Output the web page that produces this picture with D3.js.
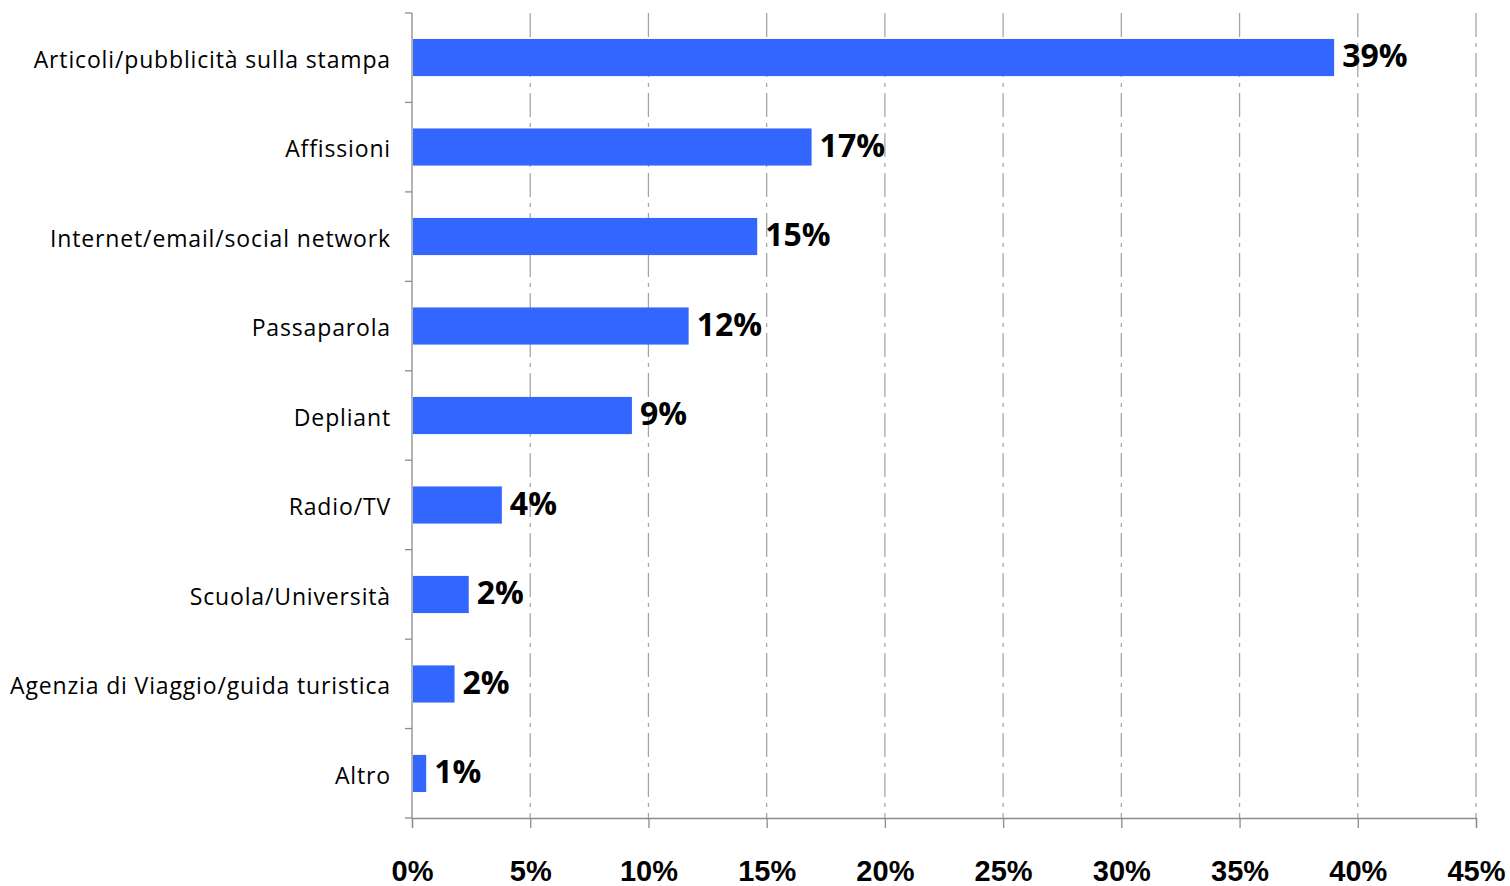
<!DOCTYPE html>
<html>
<head>
<meta charset="utf-8">
<script src="https://cdn.jsdelivr.net/npm/d3@7"></script>
<style>
  body { margin: 0; background: #fff; }
  svg { display: block; font-family: "Open Sans", Lato, sans-serif; }
</style>
</head>
<body>
<svg id="chart" width="1510" height="886"></svg>
<script>
// data
var categories = [
  "Articoli/pubblicità sulla stampa",
  "Affissioni",
  "Internet/email/social network",
  "Passaparola",
  "Depliant",
  "Radio/TV",
  "Scuola/Università",
  "Agenzia di Viaggio/guida turistica",
  "Altro"
];
var values = [39.0, 16.9, 14.6, 11.7, 9.3, 3.8, 2.4, 1.8, 0.6];
var valueLabels = ["39%", "17%", "15%", "12%", "9%", "4%", "2%", "2%", "1%"];
var xTicks = [0, 5, 10, 15, 20, 25, 30, 35, 40, 45];

var svg = d3.select('#chart');
var margin = {top: 13, left: 412, bottom: 68, right: 34};
var width = 1510, height = 886;

var x = d3.scaleLinear().domain([0, 45]).range([margin.left, width - margin.right]);
var y = d3.scaleBand().domain(categories).range([margin.top, height - margin.bottom]).paddingInner(0.585).paddingOuter(0.29);

// vertical grid, dash-dot
svg.append("g").selectAll("line")
  .data(xTicks.slice(1))
  .enter().append("line")
  .attr("x1", d => x(d)).attr("x2", d => x(d))
  .attr("y1", margin.top).attr("y2", height - margin.bottom)
  .attr("stroke", "#a6a6a6")
  .attr("stroke-width", 1.3)
  .attr("stroke-dasharray", "24,6,4,6");

// bottom axis
var xAxis = d3.axisBottom(x).tickValues(xTicks).tickSize(10).tickFormat(d => d + "%");
var gx = svg.append("g")
  .attr("transform", "translate(0," + (height - margin.bottom) + ")")
  .call(xAxis);
gx.select(".domain").attr("stroke", "#8c8c8c").attr("stroke-width", 1.3);
gx.selectAll(".tick line").attr("stroke", "#8c8c8c").attr("stroke-width", 1.3);
gx.selectAll(".tick text")
  .attr("y", 63)
  .attr("dy", 0)
  .style("font-size", "29px")
  .style("font-weight", "bold")
  .style("fill", "#000");

// left axis with boundary ticks
var yAxisLine = svg.append("g");
yAxisLine.append("line")
  .attr("x1", margin.left).attr("x2", margin.left)
  .attr("y1", margin.top).attr("y2", height - margin.bottom)
  .attr("stroke", "#8c8c8c").attr("stroke-width", 1.3);
var bounds = d3.range(categories.length + 1).map(i => margin.top + i * (height - margin.top - margin.bottom) / categories.length);
yAxisLine.selectAll(".b").data(bounds).enter().append("line")
  .attr("x1", margin.left - 7).attr("x2", margin.left)
  .attr("y1", d => d).attr("y2", d => d)
  .attr("stroke", "#8c8c8c").attr("stroke-width", 1.3);

// category labels
svg.append("g").selectAll("text")
  .data(categories)
  .enter().append("text")
  .attr("x", margin.left - 21)
  .attr("y", d => y(d) + y.bandwidth() / 2)
  .attr("dy", "0.45em")
  .attr("text-anchor", "end")
  .style("font-size", "23px")
  .style("letter-spacing", "0.85px")
  .style("fill", "#000")
  .text(d => d);

// bars
svg.append("g").selectAll("rect")
  .data(values)
  .enter().append("rect")
  .attr("x", x(0) + 1)
  .attr("y", (d, i) => y(categories[i]))
  .attr("width", d => x(d) - x(0) - 1)
  .attr("height", y.bandwidth())
  .attr("fill", "#3366ff");

// value labels
svg.append("g").selectAll("text")
  .data(values)
  .enter().append("text")
  .attr("x", d => x(d) + 8)
  .attr("y", (d, i) => y(categories[i]) + y.bandwidth() / 2)
  .attr("dy", "0.3em")
  .style("font-size", "32px")
  .style("font-weight", "bold")
  .style("fill", "#000")
  .text((d, i) => valueLabels[i]);
</script>
</body>
</html>
